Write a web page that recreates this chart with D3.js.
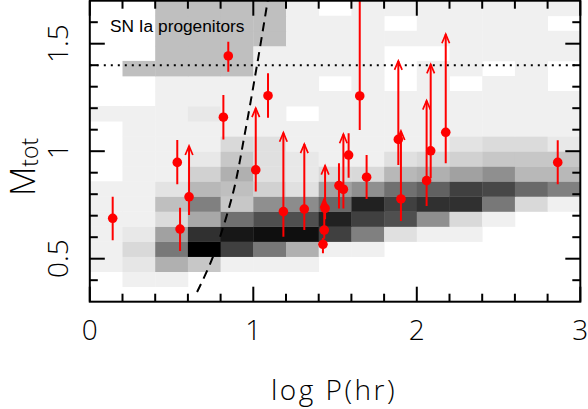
<!DOCTYPE html>
<html>
<head>
<meta charset="utf-8">
<script src="https://cdn.jsdelivr.net/npm/d3@7"></script>
<style>
body { margin: 0; background: #fff; }
svg { display: block; }
.lbl { font-family: "Open Sans", sans-serif; font-weight: 300; fill: #000; }
</style>
</head>
<body>
<svg id="chart" width="588" height="409"></svg>
<script>
// histogram bins (lower edges)
const logPBins = [0, 0.2, 0.4, 0.6, 0.8, 1.0, 1.2, 1.4, 1.6, 1.8, 2.0, 2.2, 2.4, 2.6, 2.8];
const massBins = [0.30, 0.37, 0.44, 0.51, 0.58, 0.65, 0.72, 0.79, 0.86, 0.93,
                  1.00, 1.07, 1.14, 1.21, 1.28, 1.35, 1.42, 1.49, 1.56, 1.63];
const binW = 0.2, binH = 0.07;

// relative density, one row per mass bin (bottom to top), 0 = white, 100 = black
const density = [
  [0,0,0,0,0,0,0,0,0,0,0,0,0,0,0],
  [0,6,6,0,0,0,0,0,0,0,0,0,0,0,0],
  [6,10,31,22,6,6,6,0,0,0,0,0,0,0,0],
  [6,15,53,100,75,53,31,6,6,0,0,0,0,0,0],
  [6,9,37,81,91,94,94,75,50,12,6,6,0,0,0],
  [6,6,14,34,56,69,69,87,75,69,44,15,6,0,0],
  [6,6,25,50,22,44,45,59,87,75,81,81,53,15,6],
  [6,6,11,28,25,18,12,37,44,56,62,75,72,59,50],
  [0,6,6,18,31,12,9,15,15,28,31,37,44,28,28],
  [0,6,6,9,22,12,9,6,6,12,15,18,22,22,22],
  [0,6,6,6,15,12,6,6,6,6,6,11,14,14,9],
  [0,6,6,6,6,6,6,6,6,6,6,6,6,6,6],
  [6,6,6,9,6,6,0,6,6,6,6,6,6,6,6],
  [0,0,6,6,6,6,6,6,6,6,6,6,6,6,6],
  [0,0,6,6,6,6,6,0,6,0,6,0,6,6,0],
  [0,25,25,25,25,6,6,6,6,0,6,6,0,6,0],
  [0,0,25,25,25,6,6,6,6,0,0,6,6,6,6],
  [0,0,25,25,25,25,6,6,6,6,6,6,6,6,6],
  [0,0,25,25,25,25,6,6,6,0,6,6,6,6,0],
  [0,0,25,25,25,25,6,0,6,6,6,6,6,6,6]
];

// observed systems
const logP    = [0.14, 0.552, 0.535, 0.607, 0.817, 0.847, 1.09, 1.015, 1.184, 1.312, 1.439, 1.434, 1.426,
                 1.524, 1.551, 1.583, 1.693, 1.651, 1.887, 1.903, 2.06, 2.085, 2.177, 2.862];
const mass    = [0.688, 0.638, 0.948, 0.788, 1.158, 1.443, 1.258, 0.913, 0.719, 0.731, 0.734, 0.633, 0.567,
                 0.84, 0.823, 0.982, 0.879, 1.257, 1.055, 0.778, 0.863, 1.002, 1.088, 0.948];
const massLo  = [0.586, 0.536, 0.846, 0.703, 1.055, 1.370, 1.156, 0.812, 0.602, 0.633, 0.684, 0.593, 0.525,
                 0.734, 0.734, 0.877, 0.778, 1.099, 0.936, 0.675, 0.745, 0.874, 0.944, 0.846];
const massHi  = [0.788, 0.737, 1.052, 1.024, 1.261, 1.509, 1.362, 1.200, 1.086, 1.033, 0.933, 0.778, 0.596,
                 0.944, 1.079, 1.083, 0.982, 1.75, 1.420, 1.094, 1.235, 1.404, 1.544, 1.051];
const isLimit = [0,0,0,1,0,0,0,1,1,1,1,1,0, 0,1,0,0,0,1,1,1,1,1,0];

// dashed boundary
const boundary = [[0.656,0.345],[0.753,0.508],[0.876,0.806],[0.949,1.085],[1.021,1.393],[1.082,1.672],[1.092,1.72]];
const chandra = 1.4;

const xMajor = [0, 1, 2, 3];
const xMinor = [0.2,0.4,0.6,0.8,1.2,1.4,1.6,1.8,2.2,2.4,2.6,2.8];
const yMajor = [0.5, 1, 1.5];
const yMinor = [0.4,0.6,0.7,0.8,0.9,1.1,1.2,1.3,1.4,1.6];

const svg = d3.select("#chart");
const x = d3.scaleLinear().domain([0, 3]).range([89.8, 580.3]);
const y = d3.scaleLinear().domain([0.3, 1.7]).range([301.7, 0.7]);
const gray = d3.scaleLinear().domain([0, 100]).range(["#ffffff", "#000000"]);

svg.append("defs").append("clipPath").attr("id", "clip")
  .append("rect")
  .attr("x", x(0)).attr("y", y(1.7))
  .attr("width", x(3) - x(0)).attr("height", y(0.3) - y(1.7));

const plot = svg.append("g").attr("clip-path", "url(#clip)");

// 2d histogram
const cells = [];
density.forEach((row, j) => row.forEach((v, i) => cells.push({i, j, v})));
plot.append("g").selectAll("rect")
  .data(cells.filter(d => d.v > 0))
  .join("rect")
  .attr("x", d => x(logPBins[d.i]))
  .attr("y", d => y(massBins[d.j] + binH))
  .attr("width", d => x(logPBins[d.i] + binW) - x(logPBins[d.i]) + 0.4)
  .attr("height", d => y(massBins[d.j]) - y(massBins[d.j] + binH) + 0.4)
  .attr("fill", d => gray(d.v));

// Chandrasekhar mass
plot.append("line")
  .attr("x1", x(0)).attr("x2", x(3))
  .attr("y1", y(chandra)).attr("y2", y(chandra))
  .attr("stroke", "#000").attr("stroke-width", 2)
  .attr("stroke-dasharray", "2,5");

plot.append("path")
  .datum(boundary)
  .attr("d", d3.line().x(d => x(d[0])).y(d => y(d[1])).curve(d3.curveCatmullRom))
  .attr("fill", "none").attr("stroke", "#000").attr("stroke-width", 2)
  .attr("stroke-dasharray", "9,6");

// error bars, arrows, points
const pts = logP.map((p, k) => ({p, m: mass[k], lo: massLo[k], hi: massHi[k], lim: isLimit[k]}));
const red = "#ff0000";

plot.append("g").selectAll("line")
  .data(pts)
  .join("line")
  .attr("x1", d => x(d.p)).attr("x2", d => x(d.p))
  .attr("y1", d => y(d.lo)).attr("y2", d => y(d.hi))
  .attr("stroke", red).attr("stroke-width", 2);

plot.append("g").selectAll("path")
  .data(pts.filter(d => d.lim))
  .join("path")
  .attr("d", d => {
    const cx = x(d.p), ty = y(d.hi);
    return `M${cx - 3.8},${ty + 9}L${cx},${ty}L${cx + 3.8},${ty + 9}`;
  })
  .attr("fill", "none").attr("stroke", red).attr("stroke-width", 1.7);

plot.append("g").selectAll("circle")
  .data(pts)
  .join("circle")
  .attr("cx", d => x(d.p)).attr("cy", d => y(d.m))
  .attr("r", 4.8)
  .attr("fill", red);

svg.append("text")
  .attr("x", 110).attr("y", 31.5)
  .style("font-family", "'Liberation Sans', Arial, sans-serif")
  .style("font-size", "17.3px")
  .text("SN Ia progenitors");

// frame and ticks (all pointing inward)
const axes = svg.append("g").attr("stroke", "#000").attr("stroke-width", 2);
axes.append("rect")
  .attr("x", x(0)).attr("y", y(1.7))
  .attr("width", x(3) - x(0)).attr("height", y(0.3) - y(1.7))
  .attr("fill", "none");

function xTicks(vals, len) {
  vals.forEach(v => {
    axes.append("line").attr("x1", x(v)).attr("x2", x(v)).attr("y1", y(0.3)).attr("y2", y(0.3) - len);
    axes.append("line").attr("x1", x(v)).attr("x2", x(v)).attr("y1", y(1.7)).attr("y2", y(1.7) + len);
  });
}
function yTicks(vals, len) {
  vals.forEach(v => {
    axes.append("line").attr("x1", x(0)).attr("x2", x(0) + len).attr("y1", y(v)).attr("y2", y(v));
    axes.append("line").attr("x1", x(3)).attr("x2", x(3) - len).attr("y1", y(v)).attr("y2", y(v));
  });
}
xTicks(xMajor, 15); xTicks(xMinor, 8);
yTicks(yMajor, 15); yTicks(yMinor, 8);

svg.append("g").selectAll("text")
  .data(xMajor)
  .join("text")
  .attr("class", "lbl")
  .attr("x", d => x(d)).attr("y", 340)
  .attr("text-anchor", "middle")
  .style("font-size", "28px")
  .text(d => d);

svg.append("g").selectAll("text")
  .data(yMajor)
  .join("text")
  .attr("class", "lbl")
  .attr("transform", d => `translate(68,${y(d)}) rotate(-90)`)
  .attr("text-anchor", "middle")
  .style("font-size", "28px")
  .text(d => d);

svg.append("text")
  .attr("class", "lbl")
  .attr("x", 334).attr("y", 400)
  .attr("text-anchor", "middle")
  .style("font-size", "28px")
  .style("letter-spacing", "2.5px")
  .text("log P(hr)");

const yt = svg.append("text")
  .attr("class", "lbl")
  .attr("transform", "translate(35,196) rotate(-90)")
  .style("font-size", "34px");
yt.append("tspan").text("M");
yt.append("tspan").attr("dy", 3).style("font-size", "23px").text("tot");
</script>
</body>
</html>
